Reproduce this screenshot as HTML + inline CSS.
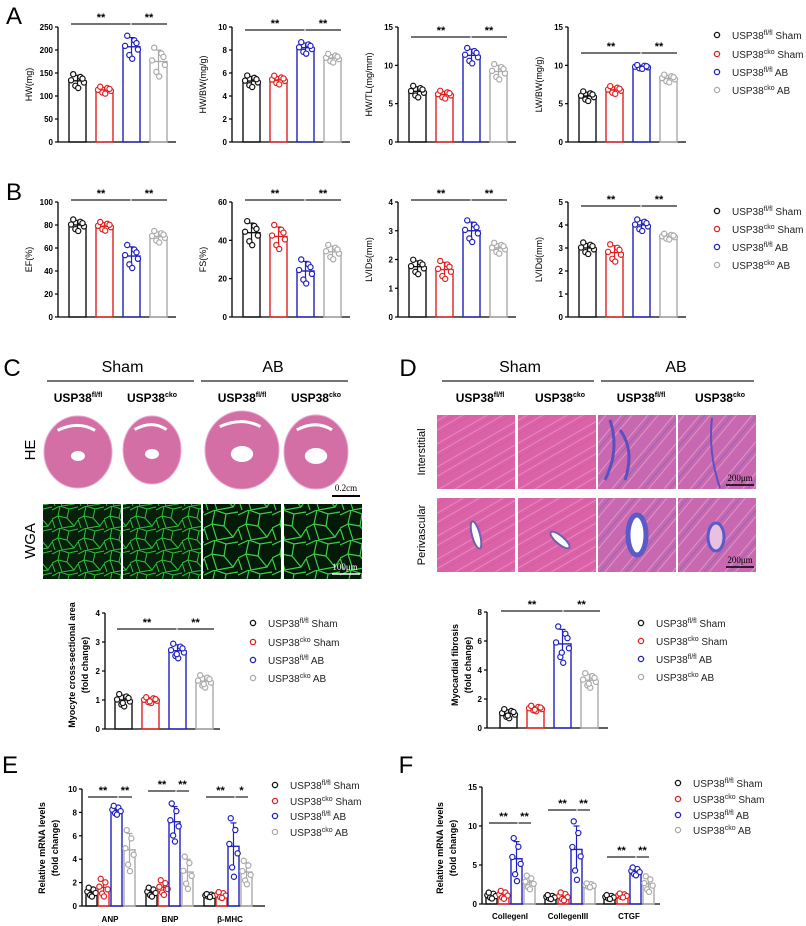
<!DOCTYPE html>
<html><head><meta charset="utf-8"><style>
body{margin:0;background:#fff}
svg{display:block;font-family:"Liberation Sans",Arial,sans-serif}
</style></head><body>
<svg id="s" width="806" height="926" viewBox="0 0 806 926" xmlns="http://www.w3.org/2000/svg">
<defs>
<pattern id="wga" width="26" height="22" patternUnits="userSpaceOnUse">
<rect width="26" height="22" fill="#06200c"/>
<path d="M0 4 L8 0 L17 3 L26 1 M8 0 L6 10 L0 13 M6 10 L15 12 L17 3 M15 12 L22 20 L26 14 M22 20 L10 22 L6 10 M0 13 L3 22" stroke="#2fbf3a" stroke-width="1" fill="none"/>
</pattern>
<pattern id="wga2" width="34" height="30" patternUnits="userSpaceOnUse">
<rect width="34" height="30" fill="#041a08"/>
<path d="M0 5 L11 0 L22 4 L34 2 M11 0 L8 14 L0 18 M8 14 L20 16 L22 4 M20 16 L29 27 L34 19 M29 27 L13 30 L8 14 M0 18 L4 30" stroke="#3ad045" stroke-width="1.2" fill="none"/>
</pattern>
<pattern id="mas" width="20" height="20" patternUnits="userSpaceOnUse" patternTransform="rotate(-30)">
<rect width="20" height="20" fill="#dc62a8"/>
<path d="M0 3 H20 M0 11 H20" stroke="#eb95c6" stroke-width="0.8"/>
<path d="M0 7 H20 M0 15 H20" stroke="#cc55a0" stroke-width="0.6"/>
</pattern>
<pattern id="masb" width="20" height="20" patternUnits="userSpaceOnUse" patternTransform="rotate(-50)">
<rect width="20" height="20" fill="#c868b0"/>
<path d="M0 3 H20 M0 11 H20" stroke="#e4a4d0" stroke-width="0.8"/>
<path d="M0 7 H20" stroke="#8a64bc" stroke-width="0.8"/>
</pattern>
</defs>
<g id="g"></g>
</svg>
<script>
var G=document.getElementById('g'),S='';
function t(x,y,s,o){o=o||{};S+='<text x="'+x+'" y="'+y+'" font-size="'+(o.fs||8)+'" font-weight="'+(o.fw||'bold')+'" text-anchor="'+(o.a||'middle')+'" fill="'+(o.c||'#000')+'"'+(o.r?' transform="rotate(-90 '+x+' '+y+')"':'')+(o.ff?' font-family="'+o.ff+'"':'')+'>'+s+'</text>';}
function l(x1,y1,x2,y2,c,w){S+='<line x1="'+x1+'" y1="'+y1+'" x2="'+x2+'" y2="'+y2+'" stroke="'+(c||'#000')+'" stroke-width="'+(w||1.2)+'"/>';}
var C=['#111','#e02020','#2020c0','#aaaaaa'];
var J=[-0.9,-0.3,0.4,0.9,-0.6,0.1,0.7,-0.1];
var V=[0.1,-0.9,0.7,-0.3,1.2,-1.3,0.4,-0.6];
function bars(x0,yT,yB,max,ticks,xs,w,means,sds,c,axEnd,n){
  var sc=(yB-yT)/max;
  l(x0,yT,x0,yB+0.5,'#000',1.3);l(x0,yB,axEnd,yB,'#000',1.3);
  ticks.forEach(function(v){var y=yB-v*sc;l(x0-3,y,x0,y,'#000',1.2);t(x0-5,y+3,v,{a:'end'});});
  xs.forEach(function(x,i){
    var col=c[i%4],m=means[i],sd=sds[i],yt=yB-m*sc;
    S+='<rect x="'+x+'" y="'+yt+'" width="'+w+'" height="'+(yB-yt)+'" fill="none" stroke="'+col+'" stroke-width="1.4"/>';
    var cx=x+w/2;l(cx,yB-(m+sd)*sc,cx,yB-(m-sd)*sc,col,1.2);l(cx-3,yB-(m+sd)*sc,cx+3,yB-(m+sd)*sc,col,1.2);
    for(var k=0;k<(n||7);k++){var v=m+V[k]*sd;S+='<circle cx="'+(cx+J[k]*w*0.42)+'" cy="'+(yB-v*sc)+'" r="2.6" fill="#fff" stroke="'+col+'" stroke-width="1.2"/>';}
  });
}
function sig(x1,xm,x2,y,s2,s1){l(x1,y,xm-0.5,y,'#222',1.2);l(xm+0.5,y,x2,y,'#222',1.2);t((x1+xm)/2,y-3,s1||'**',{fs:11});t((xm+x2)/2,y-3,s2||'**',{fs:11});}
function leg(x,ys){var lab=['USP38<tspan font-size="7" dy="-4">fl/fl</tspan><tspan dy="4"> Sham</tspan>','USP38<tspan font-size="7" dy="-4">cko</tspan><tspan dy="4"> Sham</tspan>','USP38<tspan font-size="7" dy="-4">fl/fl</tspan><tspan dy="4"> AB</tspan>','USP38<tspan font-size="7" dy="-4">cko</tspan><tspan dy="4"> AB</tspan>'];
 ys.forEach(function(y,i){S+='<circle cx="'+x+'" cy="'+y+'" r="2.6" fill="#fff" stroke="'+C[i]+'" stroke-width="1.3"/>';t(x+15,y+4,lab[i],{fs:10,fw:'normal',a:'start',c:'#222'});});}
function row(yT,yB,sets,sigYs,labels,legY){
 [58,232,398,568].forEach(function(x0,j){
  var d=sets[j];var xs=[x0+11,x0+38,x0+65,x0+92];
  bars(x0,yT,yB,d.max,d.ticks,xs,17,d.m,d.sd,C,x0+118);
  sig(xs[0]+2,xs[2]+8,xs[3]+17,sigYs[j]);
  t(x0-26,(yT+yB)/2,labels[j],{fs:9,fw:'normal',r:1});
 });
 leg(717,legY);
}
t(14,24,'A',{fs:24,fw:'normal'});
row(27,142,[{max:250,ticks:[0,50,100,150,200,250],m:[133,113,207,175],sd:[12,6,20,25]},
 {max:10,ticks:[0,2,4,6,8,10],m:[5.3,5.4,8.2,7.3],sd:[0.4,0.3,0.4,0.3]},
 {max:15,ticks:[0,5,10,15],m:[6.6,6.2,11.3,9.2],sd:[0.6,0.4,0.8,0.8]},
 {max:15,ticks:[0,5,10,15],m:[6.0,6.8,9.8,8.3],sd:[0.5,0.4,0.2,0.4]}],[24,30,37,53],['HW(mg)','HW/BW(mg/g)','HW/TL(mg/mm)','LW/BW(mg/g)'],[35,54,72,90]);
t(14,200,'B',{fs:24,fw:'normal'});
row(202,317,[{max:100,ticks:[0,20,40,60,80,100],m:[80,79,53,70],sd:[4,3,8,4]},
 {max:60,ticks:[0,20,40,60],m:[44,42,24,34],sd:[5,5,5,3]},
 {max:4,ticks:[0,1,2,3,4],m:[1.75,1.65,3.0,2.4],sd:[0.2,0.25,0.3,0.15]},
 {max:5,ticks:[0,1,2,3,4,5],m:[3.0,2.8,4.0,3.5],sd:[0.2,0.3,0.2,0.1]}],[200,200,200,206],['EF(%)','FS(%)','LVIDs(mm)','LVIDd(mm)'],[211,229,247,265]);
function hdr(xL,xM,xR,cx){
 t((xL+xM)/2,372,'Sham',{fs:16,fw:'normal'});t((xM+xR)/2,372,'AB',{fs:16,fw:'normal'});
 l(xL,381,xM-4,381,'#222',1.3);l(xM+3,381,xR,381,'#222',1.3);
 cx.forEach(function(x,i){t(x,402,'USP38<tspan font-size="7" dy="-5">'+(i%2?'cko':'fl/fl')+'</tspan>',{fs:12});});
}
t(12,376,'C',{fs:24,fw:'normal'});
hdr(47,198,348,[78,152,242,316]);
[[78,452,34,36],[152,450,29,34],[242,450,37,39],[316,452,32,37]].forEach(function(e,i){
 S+='<ellipse cx="'+e[0]+'" cy="'+e[1]+'" rx="'+e[2]+'" ry="'+e[3]+'" fill="#d46fa6" stroke="#e8a8cc" stroke-width="1"/>';
 S+='<path d="M'+(e[0]-e[2]*0.6)+' '+(e[1]-e[3]*0.6)+' q'+(e[2]*0.6)+' -10 '+(e[2]*1.1)+' 0" stroke="#fff" stroke-width="3" fill="none"/>';
 var s=i>=2?1.6:1;S+='<ellipse cx="'+e[0]+'" cy="'+(e[1]+4)+'" rx="'+(7*s)+'" ry="'+(5*s)+'" fill="#fff"/>';
});
t(35,450,'HE',{fs:15,fw:'normal',r:1});
t(346,491,'0.2cm',{fs:9,fw:'normal',ff:'Liberation Serif'});l(332,496,360,496,'#000',2);
[43,123,203,284].forEach(function(x,i){S+='<rect x="'+x+'" y="504" width="78" height="75" fill="url(#'+(i>=2?'wga2':'wga')+')"/>';});
t(35,541,'WGA',{fs:15,fw:'normal',r:1});
t(345,570,'100μm',{fs:9,fw:'normal',c:'#fff',ff:'Liberation Serif'});l(332,574,360,574,'#fff',1.5);
t(408,376,'D',{fs:24,fw:'normal'});
hdr(442,598,754,[480,560,641,720]);
[437,518,598,678].forEach(function(x,i){
 S+='<rect x="'+x+'" y="415" width="78" height="74" fill="url(#'+(i>=2?'masb':'mas')+')"/>';
 S+='<rect x="'+x+'" y="498" width="78" height="74" fill="url(#'+(i>=2?'masb':'mas')+')"/>';
});
S+='<path d="M610 420 q10 30 -5 60 M620 430 q15 20 5 50" stroke="#5a50c0" stroke-width="3" fill="none"/>';
S+='<path d="M712 418 q-4 35 8 70" stroke="#6050c0" stroke-width="2" fill="none"/>';
S+='<ellipse cx="476" cy="535" rx="4" ry="14" fill="#fff" stroke="#7060b0" stroke-width="2" transform="rotate(-15 476 535)"/>';
S+='<ellipse cx="560" cy="540" rx="4" ry="12" fill="#fff" stroke="#7060b0" stroke-width="2" transform="rotate(-50 560 540)"/>';
S+='<ellipse cx="637" cy="535" rx="9" ry="20" fill="#fff" stroke="#5a5ac8" stroke-width="5"/>';
S+='<ellipse cx="716" cy="537" rx="8" ry="14" fill="#e8c0e0" stroke="#5a5ac8" stroke-width="3"/>';
t(425,452,'Interstitial',{fs:11,fw:'normal',r:1});t(425,535,'Perivascular',{fs:11,fw:'normal',r:1});
t(740,481,'200μm',{fs:9,fw:'normal',ff:'Liberation Serif'});l(726,485,754,485,'#000',1.5);
t(740,563,'200μm',{fs:9,fw:'normal',ff:'Liberation Serif'});l(726,567,754,567,'#000',1.5);
bars(105,613,729,4,[0,1,2,3,4],[115,142,169,196],17,[1.0,1.0,2.7,1.65],[0.17,0.08,0.2,0.17],C,220,8);
sig(117,177,214,629);
t(75,665,'Myocyte cross-sectional area',{fs:9,r:1});t(88,665,'(fold change)',{fs:9,r:1});
leg(253,[623,642,660,678]);
bars(487,612,728,8,[0,2,4,6,8],[500,527,554,581],17,[1.0,1.35,5.8,3.3],[0.25,0.15,1.0,0.4],C,608,8);
sig(501,563,600,611);
t(458,665,'Myocardial fibrosis',{fs:9,r:1});t(471,665,'(fold change)',{fs:9,r:1});
leg(641,[623,641,659,677]);
t(10,773,'E',{fs:24,fw:'normal'});
bars(82,789,906,10,[0,2,4,6,8,10],[86,98,111,124,146,158,169,182,204,216,228,241],11,[1.2,1.6,8.2,4.8,1.2,1.6,7.2,2.9,0.9,0.95,5.1,2.9],[0.3,0.6,0.3,1.4,0.3,0.5,1.3,1.1,0.1,0.2,2.0,0.8],C,265,6);
sig(88,118,132,797);sig(148,176,189,791);sig(206,235,248,797,'*');
t(110,922,'ANP');t(170,922,'BNP');t(230,922,'β-MHC');
t(45,848,'Relative mRNA levels',{fs:9,r:1});t(58,848,'(fold change)',{fs:9,r:1});
leg(275,[785,801,816,832]);
t(406,773,'F',{fs:24,fw:'normal'});
bars(482,787,904,15,[0,5,10,15],[486,498,511,524,545,558,571,584,604,617,630,643],11,[1.1,1.2,5.8,2.8,0.9,1.0,7.0,2.4,0.9,1.1,4.2,2.6],[0.3,0.4,2.2,0.7,0.2,0.4,3.0,0.2,0.2,0.2,0.4,0.8],C,660,6);
sig(489,518,531,823);sig(548,577,590,810);sig(607,636,649,857);
t(510,919,'CollegenI');t(568,919,'CollegenIII');t(629,919,'CTGF');
t(443,848,'Relative mRNA levels',{fs:9,r:1});t(456,848,'(fold change)',{fs:9,r:1});
leg(678,[783,799,815,830]);
G.innerHTML=S;
</script>
</body></html>
